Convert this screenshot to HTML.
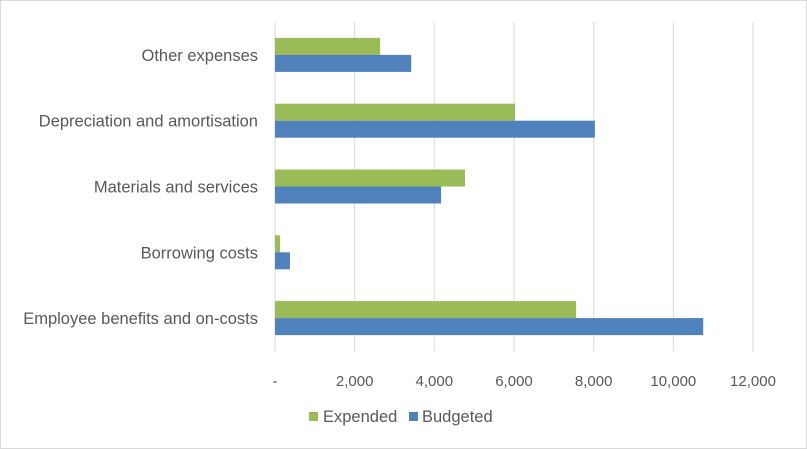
<!DOCTYPE html>
<html><head><meta charset="utf-8"><style>
body{margin:0;background:#fff}
svg{display:block;font-family:"Liberation Sans",sans-serif}
</style></head><body>
<svg id="chart" width="807" height="449">
<rect x="0.5" y="0.5" width="806" height="448" fill="#fff" stroke="#d9d9d9"/>
<g id="grid"></g><g id="bars"></g><g id="labels"></g>
<g>
<rect x="309" y="412" width="9" height="9" fill="#9bbb59"/>
<text x="323" y="422" font-size="16.5" fill="#595959">Expended</text>
<rect x="409" y="412" width="9" height="9" fill="#4f81bd"/>
<text x="422" y="422" font-size="16.5" fill="#595959">Budgeted</text>
</g>
</svg>
<script>
const categories=["Employee benefits and on-costs","Borrowing costs","Materials and services","Depreciation and amortisation","Other expenses"];
const expended=[7560,125,4770,6025,2640];
const budgeted=[10750,375,4170,8030,3420];
const ticks=[0,2000,4000,6000,8000,10000,12000];
const tickLabels=["-","2,000","4,000","6,000","8,000","10,000","12,000"];
const NS="http://www.w3.org/2000/svg";
const x0=275,x1=753,plotTop=22,plotBottom=351;
const xs=v=>x0+(x1-x0)*v/12000;
const band=(plotBottom-plotTop)/categories.length;
const cy=i=>plotBottom-band*(i+0.5);
function mk(t,a,p){const e=document.createElementNS(NS,t);for(const k in a)e.setAttribute(k,a[k]);p.appendChild(e);return e;}
const g=document.getElementById('grid'),b=document.getElementById('bars'),l=document.getElementById('labels');
ticks.forEach((t,i)=>{
 const ln=mk('line',{x1:xs(t),x2:xs(t),y1:plotTop,y2:plotBottom,stroke:'#d9d9d9','stroke-width':1},g);
 
 
 const tx=mk('text',{x:xs(t),y:386,'font-size':15,fill:'#595959','text-anchor':'middle'},l);
 tx.textContent=tickLabels[i];
 
 
});
categories.forEach((c,i)=>{
 const y=cy(i);
 const r1=mk('rect',{x:x0,y:y-17,width:xs(expended[i])-x0,height:17,fill:'#9bbb59'},b);
 
 
 const r2=mk('rect',{x:x0,y:y,width:xs(budgeted[i])-x0,height:17,fill:'#4f81bd'},b);
 
 
 const tx=mk('text',{x:258,y:y+6,'font-size':16.5,fill:'#595959','text-anchor':'end'},l);
 tx.textContent=c;
 
 
});
</script>
</body></html>
